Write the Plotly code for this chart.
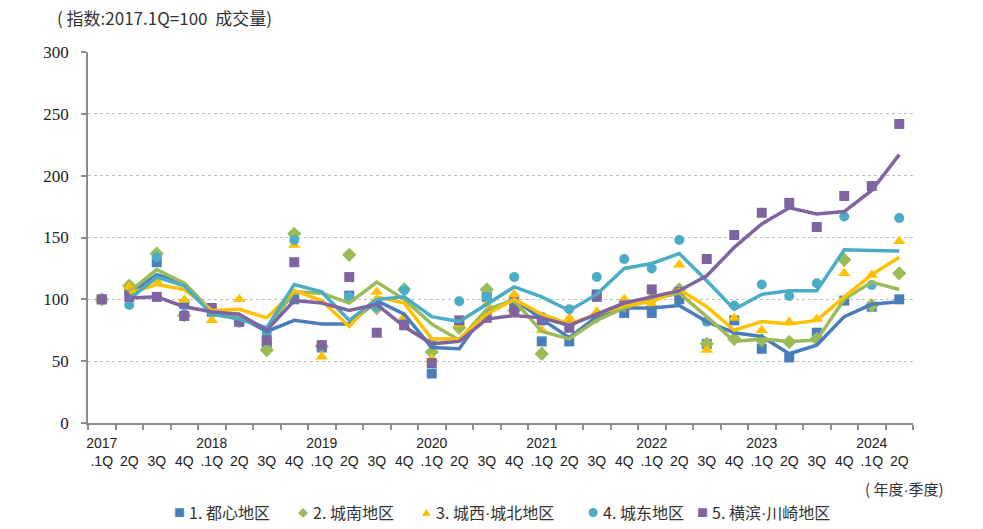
import plotly.graph_objects as go

# ---------------- data ----------------
years = ["2017", "", "", "", "2018", "", "", "", "2019", "", "", "", "2020", "", "", "",
         "2021", "", "", "", "2022", "", "", "", "2023", "", "", "", "2024", ""]
quarters = [".1Q", "2Q", "3Q", "4Q"] * 7 + [".1Q", "2Q"]

names = ["1. 都心地区", "2. 城南地区", "3. 城西·城北地区", "4. 城东地区", "5. 横滨·川崎地区"]

blue_pts = [100, 107, 130, 96, 90, 82, 63, 100, 61, 103, 96, 80, 40, 80, 102, 98, 66, 66, 104, 89,
            89, 100, 64, 83, 60, 53, 73, 99, 94, 100]
blue_line = [None, 104, 120, 113, 90, 86, 74, 83, 80, 80, 99, 88, 61, 60, 91, 100, 84, 69, 86, 93,
             93, 95, 82, 73, 70, 56, 63, 86, 96, 98]

green_pts = [100, 111, 137, 87, 91, 84, 59, 153, 62, 136, 93, 108, 57.5, 77, 108, 91, 56, 80, 86, 95,
             100, 108, 64, 68, 67, 65.5, 68, 132, 95, 121]
green_line = [None, 106, 124, 113, 90, 87, 76, 106, 105, 97, 114, 100, 80, 67, 92, 99, 74, 68, 83, 93,
              100, 105, 86, 66, 68, 66, 67, 100, 114, 108]

yellow_pts = [100, 110, 115, 99.5, 83, 100, 70, 144, 53.5, 100, 106, 86, 52, 80, 96, 104, 75, 85, 90, 100,
              96, 128, 59, 85, 75, 81.7, 84, 121, 119.6, 147]
yellow_line = [None, 105, 112, 108, 91, 92, 85, 107, 99, 78, 102, 97, 68, 68, 88, 100, 88, 80, 88, 95,
               98, 108, 94, 75, 82, 80, 83, 102, 120, 134]

cyan_pts = [100, 95.4, 134, 88, 90, 81, 73, 148, 62, 102, 94, 107.5, 65, 98.5, 102, 118, 86, 92, 118, 132.6,
            125, 148, 82, 95, 112, 102.7, 113, 167, 111.6, 165.8]
cyan_line = [None, 100, 118, 111, 88, 84, 77, 112, 106, 83, 100, 102, 86, 82, 96, 110, 102, 91, 104, 125,
             129, 137, 115, 92, 104, 107, 107, 140, 139.5, 139]

purple_pts = [100, 102, 102, 86.5, 93, 82, 67, 130, 63, 118, 73, 79, 48.5, 83, 85, 92, 83, 77, 102, 95,
              108, 106, 132.6, 152, 170, 178, 158.5, 183.6, 191.6, 241.8]
purple_line = [None, 101, 102, 94, 90, 88, 75, 99, 97, 91, 96, 78, 64, 66, 84, 87, 85, 79, 88, 97,
               102, 107, 119, 142, 161, 174, 169, 171, 188, 217]

y_ticks = [0, 50, 100, 150, 200, 250, 300]

# ---------------- styling ----------------
colors = ["#4A7EBB", "#9BBB59", "#FFC000", "#4BACC6", "#8064A2"]
symbols = ["square", "diamond", "triangle-up", "circle", "square"]
msizes = [10, 11, 11, 10, 10]
legend_glyphs = ["■", "◆", "▲", "●", "■"]

pts = [blue_pts, green_pts, yellow_pts, cyan_pts, purple_pts]
lines = [blue_line, green_line, yellow_line, cyan_line, purple_line]

x = list(range(len(quarters)))
ticktext = [(y if y else "") + "<br>" + q for y, q in zip(years, quarters)]

DOT = "<span style='font-family:Liberation Sans'>·</span>"


def disp(s):
    return s.replace("·", DOT)


fig = go.Figure()

for i in range(5):
    fig.add_trace(go.Scatter(
        x=x, y=pts[i], mode="markers", name=names[i], showlegend=False,
        marker=dict(symbol=symbols[i], size=msizes[i], color=colors[i], line=dict(width=0))))

for i in range(5):
    fig.add_trace(go.Scatter(
        x=x, y=lines[i], mode="lines", name=names[i], showlegend=False,
        line=dict(color=colors[i], width=3.5), hoverinfo="skip"))

# plot area geometry (pixels)
L, R, T, B = 88, 913, 52, 423
W, H = 983, 529


def px(xp):
    return (xp - L) / (R - L)


def py(yp):
    return (B - yp) / (B - T)


annotations = [
    dict(text="( 指数:2017.1Q=100  成交量)", x=px(55), y=py(17), xref="paper", yref="paper",
         xanchor="left", yanchor="middle", showarrow=False,
         font=dict(family="Noto Sans CJK SC", size=17, color="#333333")),
    dict(text=disp("( 年度·季度)"), x=px(946), y=py(488), xref="paper", yref="paper",
         xanchor="right", yanchor="middle", showarrow=False,
         font=dict(family="Noto Sans CJK SC", size=15, color="#333333")),
]

# legend built from text annotations
sym_x = [179, 303, 426, 593, 702]
gsize = [11, 10, 9, 10, 11]
for i in range(5):
    annotations.append(dict(text=legend_glyphs[i], x=px(sym_x[i]), y=py(512), xref="paper", yref="paper",
                            xanchor="center", yanchor="middle", showarrow=False,
                            font=dict(family="Noto Sans CJK SC", size=gsize[i], color=colors[i])))
    annotations.append(dict(text=disp(names[i]), x=px(sym_x[i] + 8), y=py(512), xref="paper", yref="paper",
                            xanchor="left", yanchor="middle", showarrow=False,
                            font=dict(family="Noto Sans CJK SC", size=16, color="#333333")))

fig.update_layout(
    width=W, height=H,
    margin=dict(l=L, r=W - R, t=T, b=H - B, pad=0),
    paper_bgcolor="white", plot_bgcolor="white",
    showlegend=False,
    annotations=annotations,
    xaxis=dict(
        range=[-0.5, len(x) - 0.5],
        tickmode="array", tickvals=x, ticktext=ticktext,
        ticks="", showgrid=False, zeroline=False,
        showline=True, linecolor="#8c8c8c", linewidth=1.5,
        tickfont=dict(family="Liberation Sans", size=14, color="#222222"),
        ticklabelstandoff=6,
        minor=dict(ticks="outside", tick0=-0.5, dtick=1, ticklen=5, tickcolor="#8c8c8c",
                   tickwidth=1.5, showgrid=False),
    ),
    yaxis=dict(
        range=[0, 300], tickmode="array", tickvals=y_ticks,
        ticks="outside", ticklen=5, tickcolor="#8c8c8c", tickwidth=1.5,
        showline=True, linecolor="#8c8c8c", linewidth=1.5,
        showgrid=True, gridcolor="#bfbfbf", griddash="dot", gridwidth=1,
        zeroline=False,
        tickfont=dict(family="Liberation Serif", size=17, color="#222222"),
        ticklabelstandoff=9,
    ),
)

fig.write_html("out.html", config={"displayModeBar": False},
               post_script="document.body.style.margin='0';document.body.style.overflow='hidden';")
